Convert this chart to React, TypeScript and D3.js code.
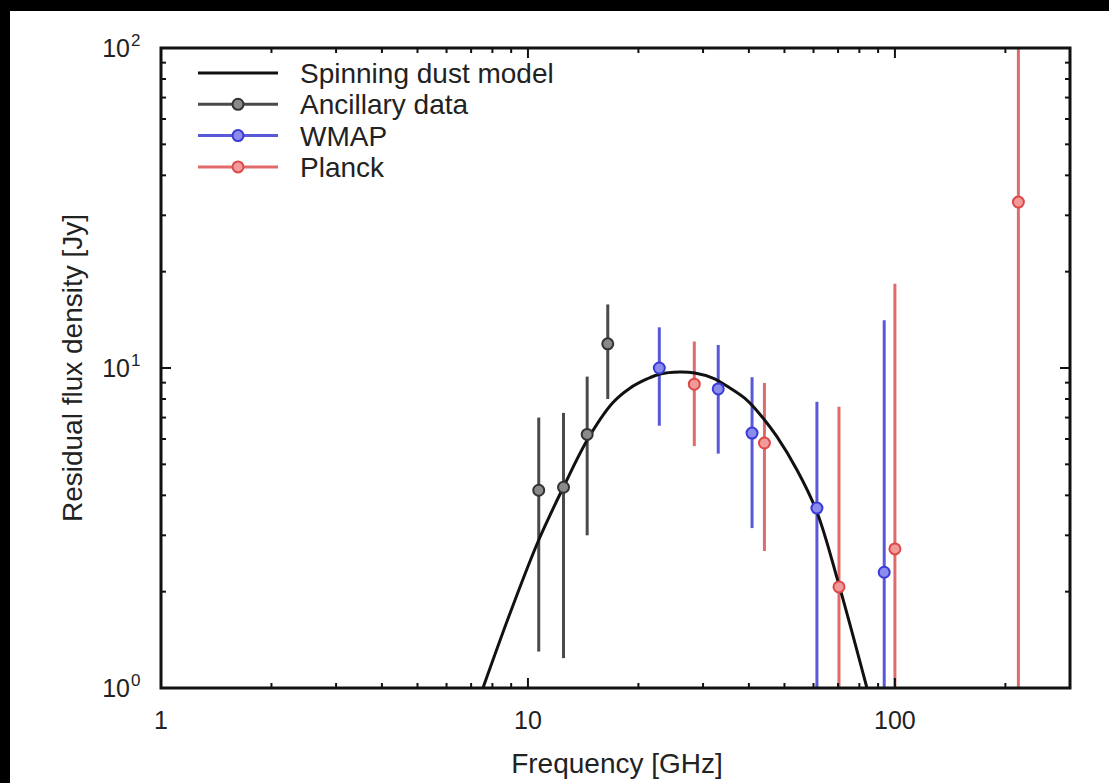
import React from "react";
import * as d3 from "d3";

// spinning dust model
const modelFreq = [7.54, 9.0, 10.7, 12.5, 14.5, 17.0, 19.0, 21.1, 22.9, 25.9, 28.5, 31.9, 35.5, 39.5, 43.7, 47.7, 54.1, 61.3, 70.0, 83.9];
const modelFlux = [1.0, 1.75, 2.9, 4.25, 5.95, 7.77, 8.66, 9.24, 9.58, 9.72, 9.65, 9.3, 8.66, 7.94, 6.98, 6.1, 4.8, 3.55, 2.15, 1.0];

const ancFreq = [10.7, 12.5, 14.5, 16.5];
const ancFlux = [4.15, 4.24, 6.2, 11.9];
const ancErr = [2.85, 3.0, 3.2, 3.9];

const wmapFreq = [22.8, 33.0, 40.8, 61.3, 93.5];
const wmapFlux = [10.0, 8.6, 6.26, 3.65, 2.3];
const wmapErr = [3.4, 3.2, 3.1, 4.2, 11.8];

const planckFreq = [28.4, 44.1, 70.4, 100, 217];
const planckFlux = [8.9, 5.83, 2.07, 2.72, 33];
const planckErr = [3.2, 3.15, 5.5, 15.6, 90];

const legendLabels = ["Spinning dust model", "Ancillary data", "WMAP", "Planck"];
const xTickLabels = ["1", "10", "100"];
const yTickExps = ["2", "1", "0"];

const font = "'Liberation Sans', Arial, Helvetica, sans-serif";

export default function App() {
  const W = 1109, H = 783;
  const left = 161, right = 1070, top = 48, bottom = 688;

  const x = d3.scaleLog().domain([1, 300]).range([left, right]);
  const y = d3.scaleLog().domain([1, 100]).range([bottom, top]);

  const series = [
    { f: ancFreq, v: ancFlux, e: ancErr, bar: "#4a4a4a", mk: "#333", fill: "#8a8a8a" },
    { f: wmapFreq, v: wmapFlux, e: wmapErr, bar: "#5858d8", mk: "#3a3ad8", fill: "#8c8cec" },
    { f: planckFreq, v: planckFlux, e: planckErr, bar: "#e26a6a", mk: "#dd4848", fill: "#f09a9a" },
  ];

  const line = d3
    .line<number>()
    .x((_, i) => x(modelFreq[i]))
    .y((d) => y(d))
    .curve(d3.curveCatmullRom.alpha(0.5));

  const xMinor: number[] = [];
  [1, 10, 100].forEach((dec) => {
    for (let k = 2; k <= 9; k++) if (dec * k <= 300) xMinor.push(dec * k);
  });
  const yMinor: number[] = [];
  [1, 10].forEach((dec) => {
    for (let k = 2; k <= 9; k++) yMinor.push(dec * k);
  });

  const lo = (v: number, e: number) => (v - e > 1 ? v - e : 1);
  const hi = (v: number, e: number) => (v + e < 100 ? v + e : 100);

  return (
    <div style={{ position: "fixed", left: 0, top: 0 }}>
      <svg width={W} height={H} style={{ display: "block" }}>
        <rect x={0} y={0} width={W} height={H} fill="#000" />
        <rect x={10} y={11} width={W - 10} height={H - 11} fill="#fff" />
        <defs>
          <clipPath id="plot">
            <rect x={left} y={top} width={right - left} height={bottom - top} />
          </clipPath>
        </defs>

        <g clipPath="url(#plot)">
          {series.map((s, si) =>
            s.f.map((f, i) => (
              <line
                key={`b${si}-${i}`}
                x1={x(f)}
                x2={x(f)}
                y1={y(hi(s.v[i], s.e[i]))}
                y2={y(lo(s.v[i], s.e[i]))}
                stroke={s.bar}
                strokeWidth={3}
              />
            ))
          )}
          <path d={line(modelFlux) || ""} fill="none" stroke="#111" strokeWidth={3} />
          {series.map((s, si) =>
            s.f.map((f, i) => (
              <circle
                key={`m${si}-${i}`}
                cx={x(f)}
                cy={y(s.v[i])}
                r={5.5}
                fill={s.fill}
                stroke={s.mk}
                strokeWidth={2}
              />
            ))
          )}
        </g>

        {/* ticks, inward on all four sides */}
        <g stroke="#111" strokeWidth={2}>
          {[1, 10, 100].map((t) => (
            <g key={`xm${t}`}>
              <line x1={x(t)} x2={x(t)} y1={bottom} y2={bottom - 10} />
              <line x1={x(t)} x2={x(t)} y1={top} y2={top + 10} />
            </g>
          ))}
          {xMinor.map((t) => (
            <g key={`xn${t}`}>
              <line x1={x(t)} x2={x(t)} y1={bottom} y2={bottom - 5} />
              <line x1={x(t)} x2={x(t)} y1={top} y2={top + 5} />
            </g>
          ))}
          {[10].map((t) => (
            <g key={`ym${t}`}>
              <line x1={left} x2={left + 10} y1={y(t)} y2={y(t)} />
              <line x1={right} x2={right - 10} y1={y(t)} y2={y(t)} />
            </g>
          ))}
          {yMinor.map((t) => (
            <g key={`yn${t}`}>
              <line x1={left} x2={left + 5} y1={y(t)} y2={y(t)} />
              <line x1={right} x2={right - 5} y1={y(t)} y2={y(t)} />
            </g>
          ))}
        </g>
        <rect x={left} y={top} width={right - left} height={bottom - top} fill="none" stroke="#111" strokeWidth={3} />

        {/* tick labels */}
        <g fontFamily={font} fontSize={25} fill="#222">
          {[1, 10, 100].map((t, i) => (
            <text key={`xl${t}`} x={x(t)} y={729} textAnchor="middle">
              {xTickLabels[i]}
            </text>
          ))}
          {[100, 10, 1].map((t) => (
            <text key={`yl${t}`} x={130} y={y(t) + 9} textAnchor="end">
              10
            </text>
          ))}
          {[100, 10, 1].map((t, i) => (
            <text key={`ye${t}`} x={131} y={y(t) - 2} fontSize={17}>
              {yTickExps[i]}
            </text>
          ))}
        </g>

        {/* axis titles */}
        <text x={617} y={773} textAnchor="middle" fontFamily={font} fontSize={28} fill="#222">
          Frequency [GHz]
        </text>
        <text
          transform={`translate(82,${(top + bottom) / 2}) rotate(-90)`}
          textAnchor="middle"
          fontFamily={font}
          fontSize={28}
          fill="#222"
        >
          Residual flux density [Jy]
        </text>

        {/* legend */}
        <g fontFamily={font} fontSize={28} fill="#222">
          {legendLabels.map((lab, i) => {
            const ly = 73 + i * 31.3;
            const s = i === 0 ? null : series[i - 1];
            return (
              <g key={lab}>
                <line x1={198} x2={278} y1={ly} y2={ly} stroke={s ? s.bar : "#111"} strokeWidth={3} />
                {s && <circle cx={238} cy={ly} r={5.5} fill={s.fill} stroke={s.mk} strokeWidth={2} />}
                <text x={300} y={ly + 10}>
                  {lab}
                </text>
              </g>
            );
          })}
        </g>
      </svg>
    </div>
  );
}
